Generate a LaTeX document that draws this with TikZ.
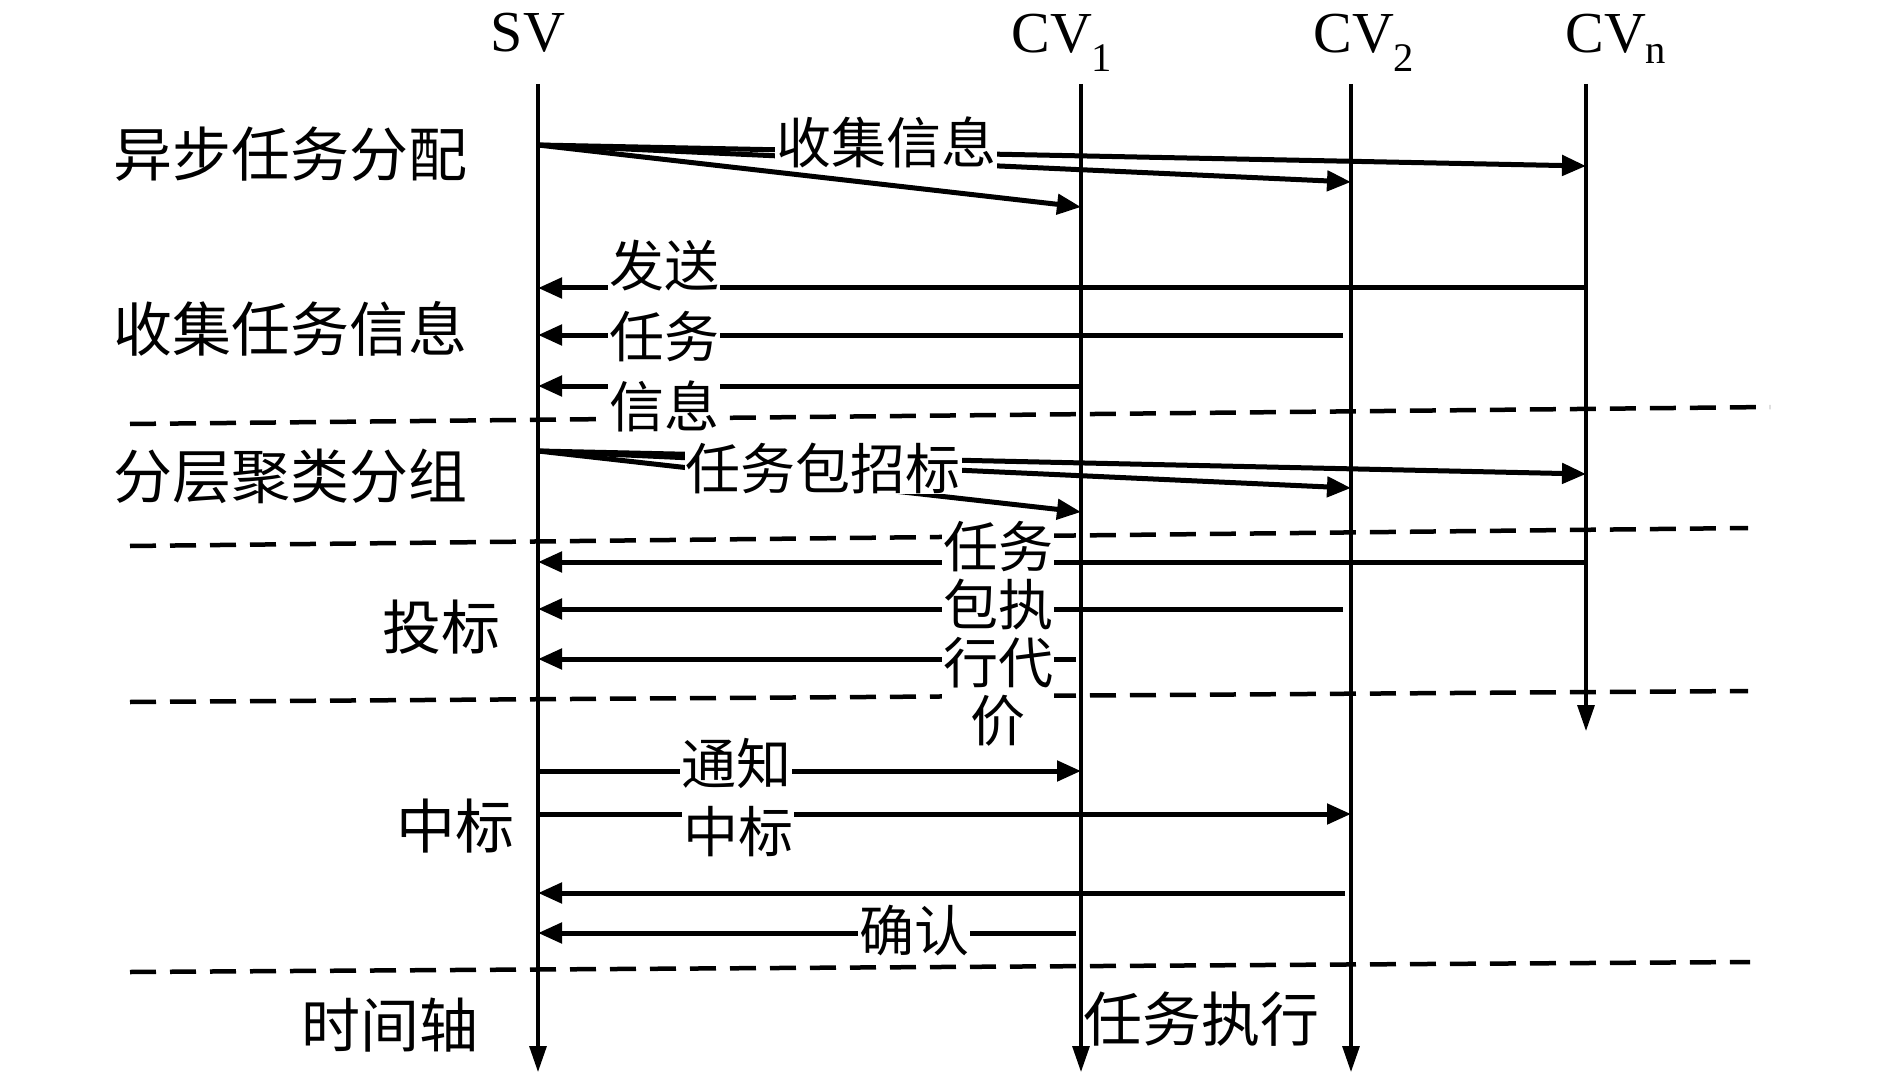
\documentclass[tikz,border=0pt]{standalone}
\usepackage{fontspec}
\setmainfont{Liberation Serif}
\newfontfamily\cjk{Noto Sans CJK SC}
\usetikzlibrary{arrows.meta}
\begin{document}
\begin{tikzpicture}[x=1pt,y=-1pt,
  head/.style={font=\fontsize{58}{62}\selectfont, inner sep=0pt, anchor=base},
  lbl/.style={font=\cjk\fontsize{59}{62}\selectfont, inner sep=0pt},
  mlbl/.style={font=\cjk\fontsize{55}{58}\selectfont, inner sep=1pt, fill=white},
  life/.style={line width=3.2pt, -{Triangle[length=26pt,width=17pt]}},
  msg/.style={line width=5pt, -{Triangle[length=24pt,width=20pt]}},
  sep/.style={line width=4.5pt, dash pattern=on 26pt off 14pt}]
\useasboundingbox (0,0) rectangle (1890,1075);

% headers
\node[head] (svh) at (528,52) {SV};
\node[head] (cv1h) at (1062,53) {CV\textsubscript{1}};
\node[head] (cv2h) at (1364,53) {CV\textsubscript{2}};
\node[head] (cvnh) at (1616,53) {CV\textsubscript{n}};

% lifeline ends
\coordinate (svt) at (538,84);  \coordinate (svb) at (538,1072);
\coordinate (c1t) at (1081,84); \coordinate (c1b) at (1081,1072);
\coordinate (c2t) at (1351,84); \coordinate (c2b) at (1351,1072);
\coordinate (cnt) at (1586,84); \coordinate (cnb) at (1586,731);

% separators
\coordinate (d1a) at (130,424); \coordinate (d1b) at (1770,407);
\coordinate (d2a) at (130,546); \coordinate (d2b) at (1748,528);
\coordinate (d3a) at (130,702); \coordinate (d3b) at (1748,691);
\coordinate (d4a) at (130,972); \coordinate (d4b) at (1750,962);
\draw[sep] (d1a) -- (d1b);
\draw[sep] (d2a) -- (d2b);
\draw[sep] (d3a) -- (d3b);
\draw[sep] (d4a) -- (d4b);

% lifelines
\draw[life] (svt) -- (svb);
\draw[life] (c1t) -- (c1b);
\draw[life] (c2t) -- (c2b);
\draw[life] (cnt) -- (cnb);

% phase labels
\node[lbl] (p1) at (290,154) {异步任务分配};
\node[lbl] (p2) at (290,329) {收集任务信息};
\node[lbl] (p3) at (290,476) {分层聚类分组};
\node[lbl] (p4) at (441,627) {投标};
\node[lbl] (p5) at (455,826) {中标};
\node[lbl] (p6) at (390,1025) {时间轴};

% group 1
\coordinate (s1) at (538,145);
\coordinate (r11) at (1081,207);
\coordinate (r12) at (1351,182);
\coordinate (r1n) at (1586,166);
\draw[msg] (s1) -- (r11);
\draw[msg] (s1) -- (r12);
\draw[msg] (s1) -- (r1n);
\node[mlbl] (m1) at (886,142) {收集信息};

% group 2
\coordinate (a2n) at (1586,288); \coordinate (b2n) at (538,288);
\coordinate (a22) at (1343,335); \coordinate (b22) at (538,335);
\coordinate (a21) at (1081,386); \coordinate (b21) at (538,386);
\draw[msg] (a2n) -- (b2n);
\draw[msg] (a22) -- (b22);
\draw[msg] (a21) -- (b21);
\node[mlbl] (m21) at (664,266) {发送};
\node[mlbl] (m22) at (664,337) {任务};
\node[mlbl] (m23) at (664,406) {信息};

% group 3
\coordinate (s3) at (538,451);
\coordinate (r31) at (1081,512);
\coordinate (r32) at (1351,488);
\coordinate (r3n) at (1586,474);
\draw[msg] (s3) -- (r31);
\draw[msg] (s3) -- (r32);
\draw[msg] (s3) -- (r3n);
\node[mlbl] (m3) at (823,468) {任务包招标};

% group 4
\coordinate (a4n) at (1586,562); \coordinate (b4n) at (538,562);
\coordinate (a42) at (1343,609); \coordinate (b42) at (538,609);
\coordinate (a41) at (1076,659); \coordinate (b41) at (538,659);
\draw[msg] (a4n) -- (b4n);
\draw[msg] (a42) -- (b42);
\draw[msg] (a41) -- (b41);
\node[mlbl, align=center] (m4) at (998,634) {任务\\包执\\行代\\价};

% group 5
\coordinate (s51) at (538,771); \coordinate (r51) at (1081,771);
\coordinate (s52) at (538,814); \coordinate (r52) at (1351,814);
\coordinate (a53) at (1345,893); \coordinate (b53) at (538,893);
\coordinate (a54) at (1076,933); \coordinate (b54) at (538,933);
\draw[msg] (s51) -- (r51);
\draw[msg] (s52) -- (r52);
\draw[msg] (a53) -- (b53);
\draw[msg] (a54) -- (b54);
\node[mlbl] (m51) at (736,763) {通知};
\node[mlbl] (m52) at (738,832) {中标};
\node[mlbl] (m54) at (914,931) {确认};

\node[lbl, anchor=west] (ex) at (1083,1019) {任务执行};
\end{tikzpicture}
\end{document}
